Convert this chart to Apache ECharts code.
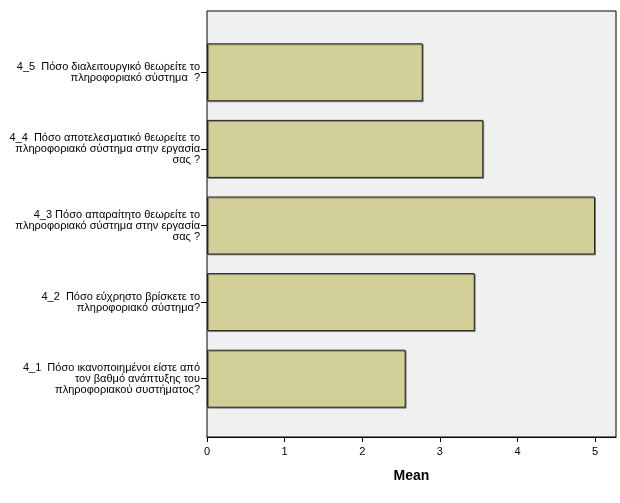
<!DOCTYPE html>
<html>
<head>
<meta charset="utf-8">
<script src="https://cdn.jsdelivr.net/npm/echarts@6/dist/echarts.min.js"></script>
<style>
  html, body { margin: 0; padding: 0; background: #fff; }
  #chart { width: 620px; height: 503px; }
</style>
</head>
<body>
<div id="chart"></div>
<script>
// categories, bottom to top
const questions = [
  '4_1  Πόσο ικανοποιημένοι είστε από\nτον βαθμό ανάπτυξης του\nπληροφοριακού συστήματος?',
  '4_2  Πόσο εύχρηστο βρίσκετε το\nπληροφοριακό σύστημα?',
  '4_3 Πόσο απαραίτητο θεωρείτε το\nπληροφοριακό σύστημα στην εργασία\nσας ?',
  '4_4  Πόσο αποτελεσματικό θεωρείτε το\nπληροφοριακό σύστημα στην εργασία\nσας ?',
  '4_5  Πόσο διαλειτουργικό θεωρείτε το\nπληροφοριακό σύστημα  ?'
]
const means = [2.56, 3.45, 5.0, 3.56, 2.78]
const xTicks = [0, 1, 2, 3, 4, 5]

const fontFamily = '"Liberation Sans", Arial, sans-serif'
const chart = echarts.init(document.getElementById('chart'), null, { renderer: 'canvas' })

chart.setOption({
  backgroundColor: '#ffffff',
  animation: false,
  grid: [
    // frame of the plot area
    { left: 207, right: 4, top: 11, bottom: 66, show: true, backgroundColor: '#f0f0f0', borderColor: '#000', borderWidth: 1 },
    // bars
    { left: 207, right: 4, top: 34, bottom: 86 }
  ],
  xAxis: [
    {
      gridIndex: 0,
      type: 'value',
      min: 0,
      max: 5.27,
      axisLine: { show: true, lineStyle: { color: '#000', width: 1 } },
      axisTick: { show: true, length: 5, lineStyle: { color: '#000' }, customValues: xTicks },
      axisLabel: { color: '#000', fontSize: 11, fontFamily, margin: 9, customValues: xTicks },
      splitLine: { show: false },
      name: 'Mean',
      nameLocation: 'middle',
      nameGap: 32,
      nameTextStyle: { color: '#000', fontSize: 14, fontWeight: 'bold', fontFamily }
    },
    { gridIndex: 1, type: 'value', min: 0, max: 5.27, show: false }
  ],
  yAxis: [
    { gridIndex: 0, type: 'value', show: false },
    {
      gridIndex: 1,
      type: 'category',
      data: questions,
      axisLine: { show: false },
      axisTick: { show: true, length: 6, alignWithLabel: true, lineStyle: { color: '#000' } },
      axisLabel: { color: '#000', fontSize: 11, lineHeight: 11, fontFamily, align: 'right', margin: 7 }
    }
  ],
  series: [{
    type: 'bar',
    xAxisIndex: 1,
    yAxisIndex: 1,
    barWidth: 58,
    data: means,
    itemStyle: {
      color: '#d3cf98',
      borderColor: '#222',
      borderWidth: 1,
      shadowColor: 'rgba(0,0,0,0.35)',
      shadowOffsetX: 1,
      shadowOffsetY: 1,
      shadowBlur: 0
    }
  }]
})
</script>
</body>
</html>
